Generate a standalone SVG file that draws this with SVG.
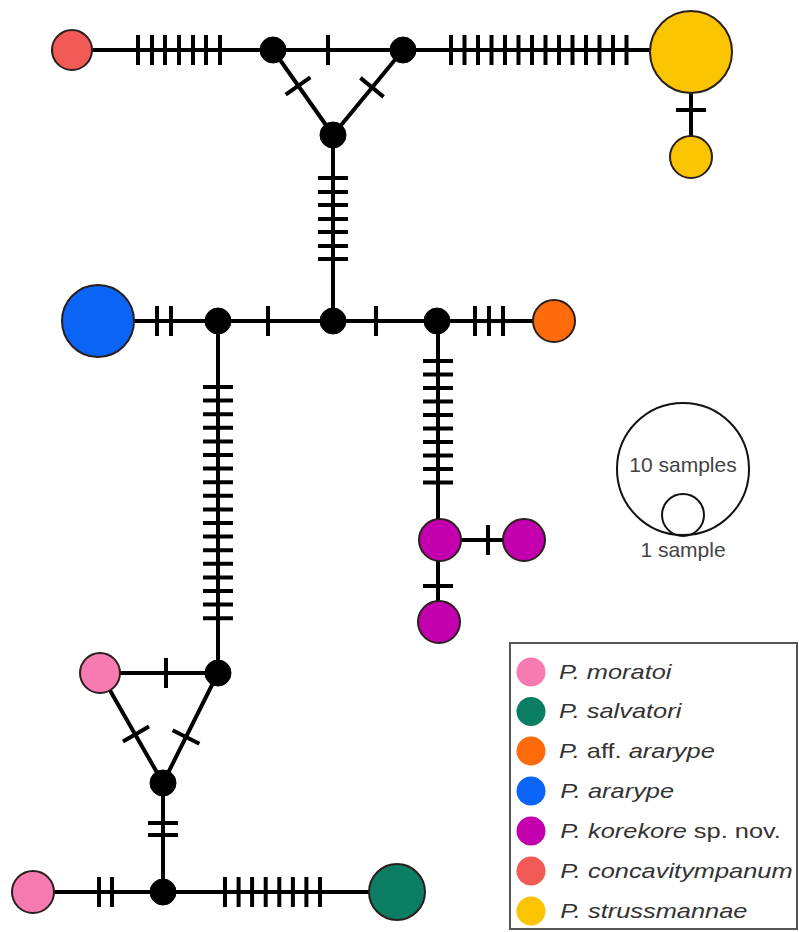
<svg xmlns="http://www.w3.org/2000/svg" width="799" height="932" viewBox="0 0 799 932">
<style>
.edge{stroke:#000;stroke-width:4;fill:none;stroke-linecap:butt}
.tick{stroke:#000;stroke-width:4;fill:none}
.med{fill:#000;stroke:#000;stroke-width:1}
.hap{stroke:#2a1f1f;stroke-width:2}
.red{fill:#F25A55}.yel{fill:#FAC400}.blu{fill:#0A64F5}.ora{fill:#FF6A0A}
.mag{fill:#C400AE}.pink{fill:#F77AB0}.grn{fill:#0B7D62}
.lg{font-family:"Liberation Sans",Arial,sans-serif;font-size:21px;fill:#333}
.it{font-style:italic}
.smp{font-family:"Liberation Sans",Arial,sans-serif;font-size:21px;fill:#444;text-anchor:middle}
</style>
<rect width="799" height="932" fill="#fff"/>
<g id="connectors">
<path class="edge" d="M72 50H273M273 50H403M403 50H691M273 50L333 135M403 50L333 135M691 52V157M333 135V321M99 321H554M218 321V673M438 321V540M438 540H524M438 540V622M100 673H218M100 673L163 783M218 673L163 783M163 783V892M33 892H397"/>
<g id="mutations">
<path class="tick" d="M138 35V65M152 35V65M165 35V65M179 35V65M193 35V65M206 35V65M220 35V65M328 35V65
M451 35V65M464.5 35V65M478 35V65M491.5 35V65M505 35V65M518.5 35V65M532 35V65M545.5 35V65M559 35V65M572.5 35V65M586 35V65M599.5 35V65M613 35V65M626.5 35V65
M285.7 94.7L310.3 77.3M360.4 77.9L383.6 96.9
M318 178H348M318 192H348M318 205H348M318 219H348M318 232H348M318 246H348M318 259H348
M157 306V336M171 306V336M268 306V336M376 306V336M475 306V336M489 306V336M503 306V336
M203 387H233M203 400.6H233M203 414.2H233M203 427.8H233M203 441.4H233M203 455H233M203 468.6H233M203 482.2H233M203 495.8H233M203 509.4H233M203 523H233M203 536.6H233M203 550.2H233M203 563.8H233M203 577.4H233M203 591H233M203 604.6H233M203 618.2H233
M423 361H453M423 374.5H453M423 388H453M423 401.5H453M423 415H453M423 428.5H453M423 442H453M423 455.5H453M423 469H453M423 482.5H453
M488 525V555M423 586H453M676 110H706
M166 658V688M123 741.5L149 726.5M172.6 730.3L199.4 743.7
M148 823H178M148 835H178
M99 877V907M112 877V907
M225 877V907M238.6 877V907M252.1 877V907M265.7 877V907M279.3 877V907M292.9 877V907M306.4 877V907M320 877V907"/>
</g>
</g>
<g id="hap-concavitympanum"><circle class="hap red" cx="72" cy="50" r="20"/></g>
<g id="med-1"><circle class="med" cx="273" cy="50" r="13"/></g>
<g id="med-2"><circle class="med" cx="403" cy="50" r="13"/></g>
<g id="med-3"><circle class="med" cx="333" cy="135" r="13"/></g>
<g id="hap-strussmannae-1"><circle class="hap yel" cx="691" cy="52" r="41"/></g>
<g id="hap-strussmannae-2"><circle class="hap yel" cx="691" cy="157" r="21"/></g>
<g id="hap-ararype"><circle class="hap blu" cx="98" cy="321" r="36"/></g>
<g id="med-4"><circle class="med" cx="218" cy="321" r="13"/></g>
<g id="med-5"><circle class="med" cx="333" cy="321" r="13"/></g>
<g id="med-6"><circle class="med" cx="437" cy="321" r="13"/></g>
<g id="hap-aff-ararype"><circle class="hap ora" cx="554" cy="321" r="21"/></g>
<g id="hap-korekore-1"><circle class="hap mag" cx="440" cy="540" r="21"/></g>
<g id="hap-korekore-2"><circle class="hap mag" cx="524" cy="540" r="21"/></g>
<g id="hap-korekore-3"><circle class="hap mag" cx="439" cy="622" r="21"/></g>
<g id="hap-moratoi-1"><circle class="hap pink" cx="100" cy="673" r="20"/></g>
<g id="med-7"><circle class="med" cx="218" cy="673" r="13"/></g>
<g id="med-8"><circle class="med" cx="163" cy="783" r="13"/></g>
<g id="med-9"><circle class="med" cx="163" cy="892" r="13"/></g>
<g id="hap-moratoi-2"><circle class="hap pink" cx="33" cy="892" r="21"/></g>
<g id="hap-salvatori"><circle class="hap grn" cx="397" cy="892" r="28"/></g>
<g id="scale">
<circle cx="683" cy="469" r="66" fill="none" stroke="#111" stroke-width="2"/>
<circle cx="683" cy="515" r="21" fill="none" stroke="#111" stroke-width="2"/>
<text class="smp" x="683" y="472">10 samples</text>
<text class="smp" x="683" y="557">1 sample</text>
</g>
<g id="legend">
<rect x="510" y="643" width="287" height="286" fill="#fff" stroke="#555" stroke-width="2"/>
<circle class="pink" cx="531" cy="672" r="14.5"/>
<circle class="grn" cx="531" cy="711.5" r="14.5"/>
<circle class="ora" cx="531" cy="751" r="14.5"/>
<circle class="blu" cx="531" cy="791" r="14.5"/>
<circle class="mag" cx="531" cy="831" r="14.5"/>
<circle class="red" cx="531" cy="871" r="14.5"/>
<circle class="yel" cx="531" cy="911" r="14.5"/>
<g transform="translate(559,0) scale(1.21,1) translate(-559,0)">
<text class="lg it" x="559" y="679">P. moratoi</text>
<text class="lg it" x="559" y="718.5">P. salvatori</text>
<text class="lg" x="559" y="758"><tspan class="it">P.</tspan> aff. <tspan class="it">ararype</tspan></text>
<text class="lg it" x="560" y="798">P. ararype</text>
<text class="lg" x="560" y="838"><tspan class="it">P. korekore</tspan> sp. nov.</text>
<text class="lg it" x="560" y="878">P. concavitympanum</text>
<text class="lg it" x="560" y="918">P. strussmannae</text>
</g>
</g>
</svg>
